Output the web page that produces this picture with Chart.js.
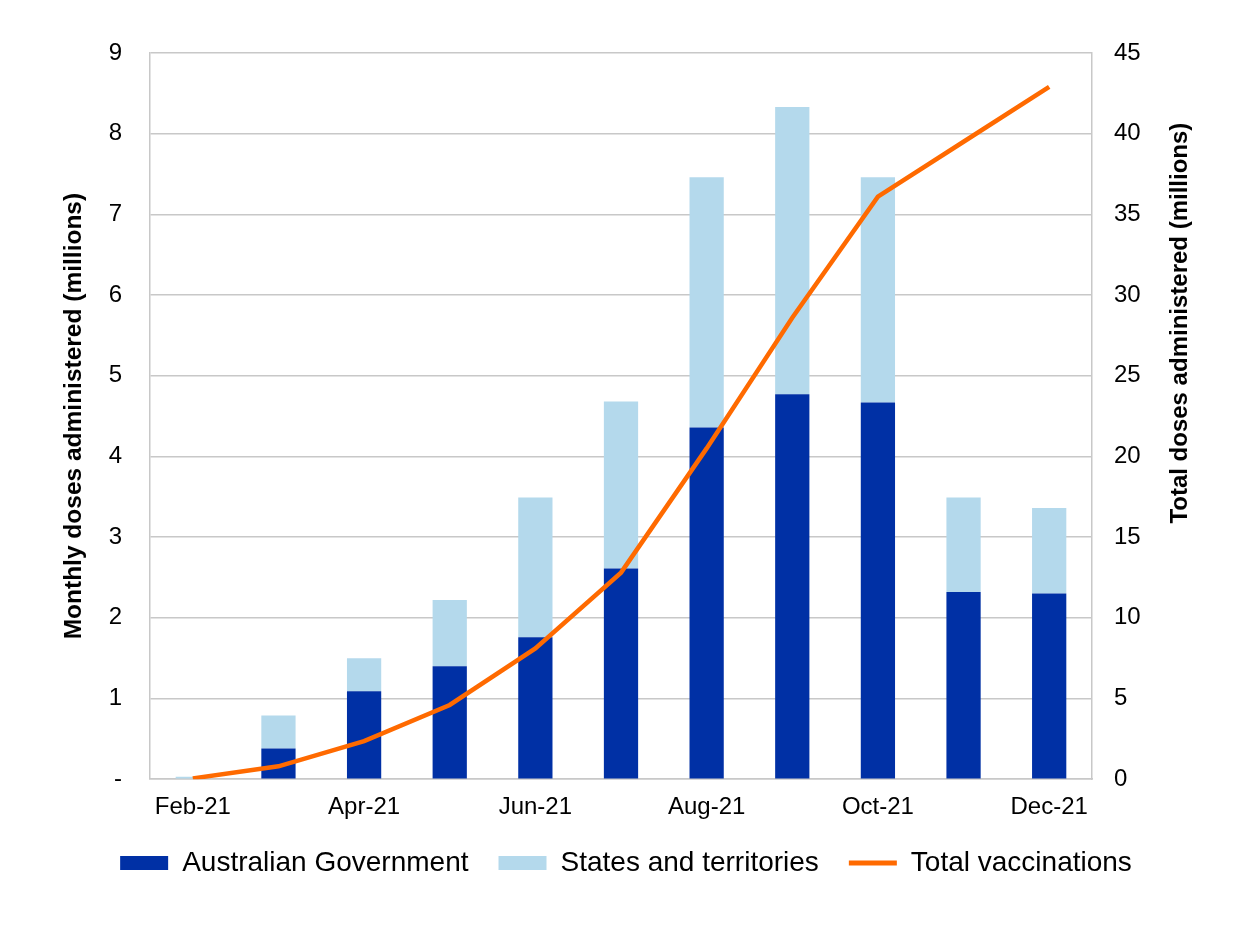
<!DOCTYPE html>
<html>
<head>
<meta charset="utf-8">
<script src="https://cdn.jsdelivr.net/npm/chart.js@4.4.0/dist/chart.umd.min.js"></script>
<style>
  html, body { margin: 0; padding: 0; background: #ffffff; }
  #wrap { width: 1236px; height: 925px; }
</style>
</head>
<body>
<div id="wrap"><canvas id="chart" width="1236" height="925"></canvas></div>
<script>
var months = ['Feb-21', 'Mar-21', 'Apr-21', 'May-21', 'Jun-21', 'Jul-21', 'Aug-21', 'Sep-21', 'Oct-21', 'Nov-21', 'Dec-21'];
var ausGov = [0.00, 0.38, 1.09, 1.40, 1.76, 2.61, 4.36, 4.77, 4.67, 2.32, 2.30];
var statesTerr = [0.03, 0.41, 0.41, 0.82, 1.73, 2.07, 3.10, 3.56, 2.79, 1.17, 1.06];
var totalVacc = [0.05, 0.8, 2.36, 4.6, 8.1, 12.8, 20.5, 28.6, 36.1, 39.5, 42.9];
var leftTicks = [0, 1, 2, 3, 4, 5, 6, 7, 8, 9];
var rightTicks = [0, 5, 10, 15, 20, 25, 30, 35, 40, 45];
var rightTitle = 'Total doses administered (millions)';

var darkBlue = '#0030a5';
var lightBlue = '#b4d9ec';
var orange = '#ff6a00';
var gridGrey = '#c8c8c8';
var fontFamily = '"Liberation Sans", Arial, sans-serif';

// right axis title reads bottom-to-top in the original, so draw it ourselves
var rightTitlePlugin = {
  id: 'rightTitle',
  afterDraw: function(chart) {
    var c = chart.ctx;
    var area = chart.chartArea;
    var axis = chart.scales.y1;
    c.save();
    c.translate(axis.right - 12, area.top + (area.bottom - area.top) * 0.372);
    c.rotate(-Math.PI / 2);
    c.font = 'bold 24px ' + fontFamily;
    c.fillStyle = '#000000';
    c.textAlign = 'center';
    c.textBaseline = 'middle';
    c.fillText(rightTitle, 0, 0);
    c.restore();
  }
};

var ctx = document.getElementById('chart').getContext('2d');
var myChart = new Chart(ctx, {
  type: 'bar',
  data: {
    labels: months,
    datasets: [
      {
        type: 'line',
        label: 'Total vaccinations',
        data: totalVacc,
        yAxisID: 'y1',
        borderColor: orange,
        backgroundColor: orange,
        borderWidth: 4.5,
        pointRadius: 0,
        tension: 0,
        order: 0
      },
      {
        label: 'Australian Government',
        data: ausGov,
        backgroundColor: darkBlue,
        yAxisID: 'y',
        stack: 's',
        barPercentage: 0.8,
        categoryPercentage: 0.5,
        order: 1
      },
      {
        label: 'States and territories',
        data: statesTerr,
        backgroundColor: lightBlue,
        yAxisID: 'y',
        stack: 's',
        barPercentage: 0.8,
        categoryPercentage: 0.5,
        order: 1
      }
    ]
  },
  plugins: [rightTitlePlugin],
  options: {
    responsive: false,
    animation: false,
    layout: { padding: { left: 60, right: 44, top: 53, bottom: 38 } },
    plugins: {
      tooltip: { enabled: false },
      legend: {
        position: 'bottom',
        labels: {
          font: { family: fontFamily, size: 28 },
          color: '#000000',
          usePointStyle: true,
          pointStyleWidth: 48,
          boxHeight: 14,
          padding: 30,
          generateLabels: function(chart) {
            var items = Chart.defaults.plugins.legend.labels.generateLabels(chart);
            items.forEach(function(it) {
              if (it.datasetIndex === 0) {
                it.pointStyle = 'line';
                it.lineWidth = 5;
                it.strokeStyle = orange;
              } else {
                it.pointStyle = 'rect';
                it.lineWidth = 0;
              }
            });
            // bars first, line last
            return [items[1], items[2], items[0]];
          }
        }
      }
    },
    scales: {
      x: {
        stacked: true,
        afterFit: function(axis) { axis.height -= 17; },
        grid: { display: false, drawTicks: false },
        border: { display: true, color: gridGrey, width: 1.5 },
        ticks: {
          autoSkip: false,
          maxRotation: 0,
          padding: 14,
          color: '#000000',
          font: { family: fontFamily, size: 24 },
          callback: function(val, i) { return i % 2 === 0 ? months[i] : ''; }
        }
      },
      y: {
        position: 'left',
        stacked: true,
        min: 0,
        max: 9,
        afterBuildTicks: function(axis) { axis.ticks = leftTicks.map(function(v) { return { value: v }; }); },
        afterFit: function(axis) { axis.width = 90; },
        grid: { color: gridGrey, lineWidth: 1.5, drawTicks: false },
        border: { display: true, color: gridGrey, width: 1.5 },
        ticks: {
          padding: 28,
          color: '#000000',
          font: { family: fontFamily, size: 24 },
          callback: function(v) { return v === 0 ? '-' : v; }
        },
        title: {
          display: true,
          text: 'Monthly doses administered (millions)',
          color: '#000000',
          font: { family: fontFamily, size: 24.5, weight: 'bold' },
          padding: 0
        }
      },
      y1: {
        position: 'right',
        min: 0,
        max: 45,
        afterBuildTicks: function(axis) { axis.ticks = rightTicks.map(function(v) { return { value: v }; }); },
        afterFit: function(axis) { axis.width = 100; },
        grid: { display: false, drawTicks: false },
        border: { display: true, color: gridGrey, width: 1.5 },
        ticks: {
          padding: 22,
          color: '#000000',
          font: { family: fontFamily, size: 24 }
        }
      }
    }
  }
});
</script>
</body>
</html>
